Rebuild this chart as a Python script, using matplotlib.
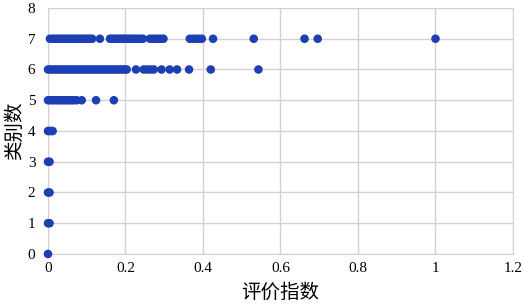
import matplotlib.pyplot as plt

plt.rcParams['font.family'] = ['Liberation Serif', 'Noto Sans CJK SC']

# values, one list per class count
row7 = [0.005, 0.012, 0.018, 0.024, 0.03, 0.036, 0.042, 0.048, 0.054, 0.06,
        0.066, 0.072, 0.078, 0.084, 0.09, 0.096, 0.102, 0.108, 0.114, 0.134,
        0.16, 0.166, 0.172, 0.178, 0.184, 0.19, 0.196, 0.202, 0.208, 0.214,
        0.22, 0.226, 0.232, 0.238, 0.245, 0.263, 0.27, 0.277, 0.284, 0.291,
        0.298, 0.366, 0.374, 0.382, 0.39, 0.397, 0.426, 0.531, 0.662, 0.696, 1.0]
row6 = [0.0, 0.006, 0.012, 0.018, 0.024, 0.03, 0.036, 0.042, 0.048, 0.054,
        0.06, 0.066, 0.072, 0.078, 0.084, 0.09, 0.096, 0.102, 0.108, 0.114,
        0.12, 0.126, 0.132, 0.138, 0.144, 0.15, 0.156, 0.162, 0.168, 0.174,
        0.18, 0.186, 0.192, 0.198, 0.203, 0.227, 0.247, 0.256, 0.265, 0.273,
        0.293, 0.314, 0.333, 0.364, 0.42, 0.543]
row5 = [0.0, 0.006, 0.012, 0.018, 0.024, 0.03, 0.036, 0.042, 0.048, 0.054,
        0.06, 0.066, 0.074, 0.087, 0.124, 0.17]
row4 = [0.0, 0.004, 0.008, 0.012]
row3 = [0.0, 0.004]
row2 = [0.0, 0.004]
row1 = [0.0, 0.004]
row0 = [0.0]
rows = [row0, row1, row2, row3, row4, row5, row6, row7]

fig = plt.figure(figsize=(5.24, 3.04), dpi=100)
ax = fig.add_axes([0.0916, 0.1645, 0.8874, 0.8092])

for k, xs in enumerate(rows):
    ax.scatter(xs, [k] * len(xs), s=38, color='#1C3FB4', edgecolors='none',
               zorder=3, clip_on=False)

ax.set_xlim(0, 1.2)
ax.set_ylim(0, 8)
ax.set_xticks([0, 0.2, 0.4, 0.6, 0.8, 1.0, 1.2])
ax.set_xticklabels(['0', '0.2', '0.4', '0.6', '0.8', '1', '1.2'])
ax.set_yticks(range(9))
ax.grid(color='#D8CFD3', linewidth=1.0)
ax.set_axisbelow(True)
for sp in ax.spines.values():
    sp.set_color('#D8CFD3')
ax.tick_params(axis='x', length=0, labelsize=11, pad=6)
ax.tick_params(axis='y', length=0, labelsize=11, pad=9)

ax.set_xlabel('评价指数', fontsize=14, family=['Noto Sans CJK SC'], labelpad=5)
ax.set_ylabel('类别数', fontsize=14, family=['Noto Sans CJK SC'], labelpad=2)

fig.savefig('out.png', dpi=100)
